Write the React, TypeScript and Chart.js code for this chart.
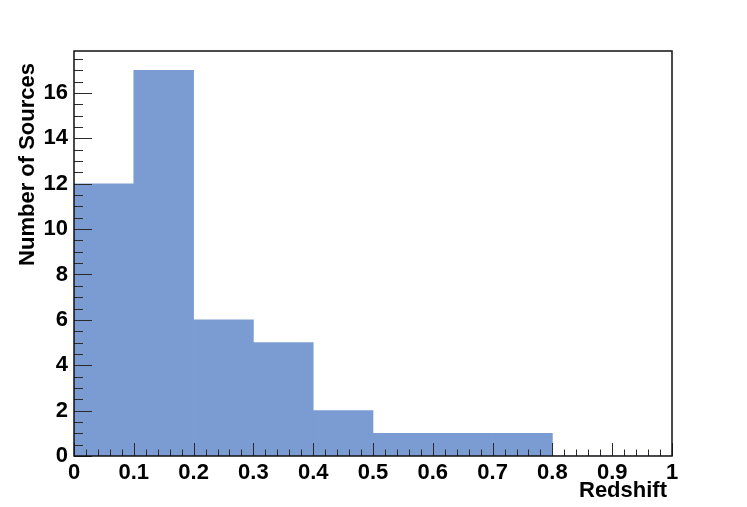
import React, { useEffect, useRef } from "react";
import { Chart, registerables } from "chart.js";

Chart.register(...registerables);

// Histogram data: redshift bins (lower edges) and counts
const binStarts = [0.0, 0.1, 0.2, 0.3, 0.4, 0.5, 0.6, 0.7, 0.8, 0.9];
const binWidth = 0.1;
const counts = [12, 17, 6, 5, 2, 1, 1, 1, 0, 0];

const xTitle = "Redshift";
const yTitle = "Number of Sources";

const X_MIN = 0;
const X_MAX = 1;
const Y_MIN = 0;
const Y_MAX = 17.85;

const FONT = '"Liberation Sans", Arial, Helvetica, sans-serif';
const BAR_COLOR = "#7b9bd3";

const frameAndTicks = {
  id: "frameAndTicks",
  afterDatasetsDraw(chart: any) {
    const { ctx, chartArea, scales } = chart;
    const xs = scales.x;
    const ys = scales.y;
    ctx.save();
    ctx.strokeStyle = "#2a2a2a";
    ctx.lineWidth = 1;
    // x ticks (inside, upward)
    for (let i = 0; i <= 50; i++) {
      const v = X_MIN + (i * (X_MAX - X_MIN)) / 50;
      const px = Math.round(xs.getPixelForValue(v)) + 0.5;
      const len = i % 5 === 0 ? 13 : 6.5;
      ctx.beginPath();
      ctx.moveTo(px, chartArea.bottom);
      ctx.lineTo(px, chartArea.bottom - len);
      ctx.stroke();
    }
    // y ticks (inside, rightward)
    for (let i = 0; i * 0.5 <= Y_MAX; i++) {
      const v = i * 0.5;
      const py = Math.round(ys.getPixelForValue(v)) + 0.5;
      const len = i % 4 === 0 ? 18 : 9;
      ctx.beginPath();
      ctx.moveTo(chartArea.left, py);
      ctx.lineTo(chartArea.left + len, py);
      ctx.stroke();
    }
    // frame
    ctx.strokeStyle = "#111";
    ctx.lineWidth = 1.5;
    ctx.strokeRect(
      chartArea.left,
      chartArea.top,
      chartArea.right - chartArea.left,
      chartArea.bottom - chartArea.top
    );
    // axis titles
    ctx.fillStyle = "#000";
    ctx.font = `bold 22px ${FONT}`;
    ctx.textBaseline = "alphabetic";
    ctx.textAlign = "right";
    ctx.fillText(xTitle, 667, 497);
    ctx.translate(34, 63);
    ctx.rotate(-Math.PI / 2);
    ctx.textAlign = "right";
    ctx.fillText(yTitle, 0, 0);
    ctx.restore();
  },
};

const fmt = (v: any) => String(Number(Number(v).toFixed(2)));

export default function App() {
  const ref = useRef<HTMLCanvasElement | null>(null);

  useEffect(() => {
    if (!ref.current) return;
    const data = binStarts.map((s, i) => ({ x: s + binWidth / 2, y: counts[i] }));
    const chart = new Chart(ref.current, {
      type: "bar",
      data: {
        datasets: [
          {
            data,
            backgroundColor: BAR_COLOR,
            borderWidth: 0,
            barPercentage: 1,
            categoryPercentage: 1,
          },
        ],
      },
      options: {
        animation: false,
        responsive: false,
        layout: { padding: { left: 0, top: 51, right: 75, bottom: 0 } },
        plugins: { legend: { display: false }, tooltip: { enabled: false } },
        scales: {
          x: {
            type: "linear",
            min: X_MIN,
            max: X_MAX,
            offset: false,
            grid: { display: false, drawTicks: false, offset: false },
            border: { display: false },
            ticks: {
              stepSize: 0.1,
              autoSkip: false,
              maxRotation: 0,
              padding: 4,
              color: "#000",
              callback: (v: any) => fmt(v),
              font: { family: FONT, size: 22, weight: "bold" },
            },
            afterFit: (s: any) => {
              s.height = 51;
            },
          },
          y: {
            type: "linear",
            min: Y_MIN,
            max: Y_MAX,
            grid: { display: false, drawTicks: false },
            border: { display: false },
            ticks: {
              stepSize: 2,
              includeBounds: false,
              padding: 6,
              color: "#000",
              callback: (v: any) => fmt(v),
              font: { family: FONT, size: 22, weight: "bold" },
            },
            afterFit: (s: any) => {
              s.width = 74;
            },
          },
        },
      } as any,
      plugins: [frameAndTicks],
    });
    return () => chart.destroy();
  }, []);

  return (
    <div style={{ position: "absolute", left: 0, top: 0, width: 747, height: 507, background: "#fff" }}>
      <canvas ref={ref} width={747} height={507} style={{ display: "block" }} />
    </div>
  );
}
